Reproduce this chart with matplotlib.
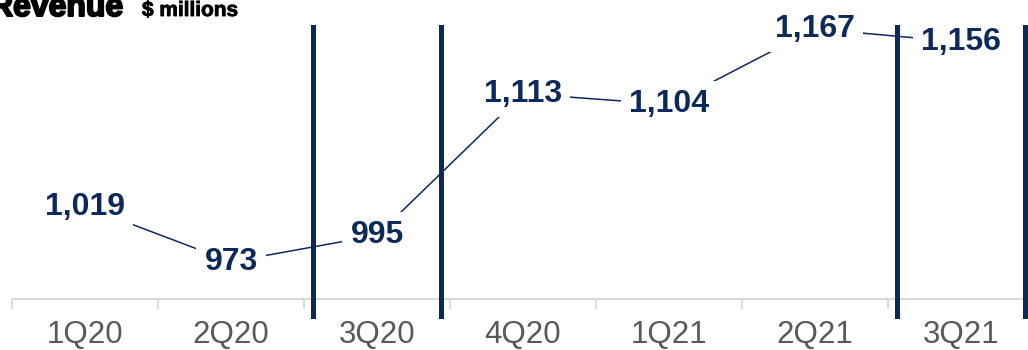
import matplotlib
matplotlib.use("Agg")
import matplotlib.pyplot as plt
import matplotlib.patheffects as pe
import numpy as np

quarters = ["1Q20", "2Q20", "3Q20", "4Q20", "1Q21", "2Q21", "3Q21"]
revenue = [1019, 973, 995, 1113, 1104, 1167, 1156]
label_text = ["1,019", "973", "995", "1,113", "1,104", "1,167", "1,156"]
highlighted = ["3Q20", "3Q21"]

NAVY = "#0B2A5B"
GRID = "#D9D9D9"

plt.rcParams["font.family"] = ["Liberation Sans", "DejaVu Sans"]

fig = plt.figure(figsize=(10.28, 3.5), dpi=100)
ax = fig.add_axes([12 / 1028, 51 / 350, 1022 / 1028, 299 / 350])

x = np.arange(len(quarters))
ax.plot(x, revenue, color=NAVY, lw=1.1, zorder=2)

for xi, v, s in zip(x, revenue, label_text):
    ax.text(xi, v, s, ha="center", va="center", fontsize=23, fontweight="bold",
            color=NAVY, zorder=3,
            bbox=dict(boxstyle="square,pad=0.25", fc="white", ec="none"))

# brackets around highlighted quarters
for q in highlighted:
    i = quarters.index(q)
    for dx in (-0.44, 0.44):
        ax.axvline(i + dx, ymin=-17 / 299, ymax=0.91, color=NAVY, lw=3.6,
                   clip_on=False, zorder=4)

ax.set_xlim(-0.5, len(quarters) - 0.5)
ax.set_ylim(942, 1191)
ax.set_xticks(x)
ax.set_xticklabels(quarters, fontsize=22.5, color="#595959")
ax.set_xticks(np.arange(len(quarters) + 1) - 0.5, minor=True)
ax.tick_params(axis="x", which="major", length=0, pad=15)
ax.tick_params(axis="x", which="minor", length=7.5, width=1.3, color=GRID)
ax.set_yticks([])
for side in ("left", "right", "top"):
    ax.spines[side].set_visible(False)
ax.spines["bottom"].set_color(GRID)
ax.spines["bottom"].set_linewidth(1.5)

fig.text(-10 / 1028, 1 - 16 / 350, "Revenue", fontsize=23, fontweight="bold",
         color="black", va="baseline", ha="left",
         path_effects=[pe.withStroke(linewidth=1.4, foreground="black")])
fig.text(142 / 1028, 1 - 16 / 350, "$ millions", fontsize=15, fontweight="bold",
         color="black", va="baseline", ha="left",
         path_effects=[pe.withStroke(linewidth=0.6, foreground="black")])

fig.savefig("out.png", dpi=100)
